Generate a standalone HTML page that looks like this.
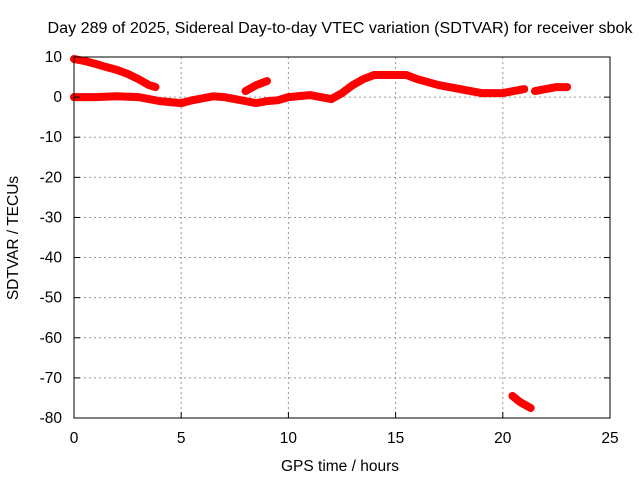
<!DOCTYPE html>
<html><head><meta charset="utf-8"><style>
body{margin:0;background:#fff}
svg text{font-family:"Liberation Sans",sans-serif;font-size:15.5px;fill:#000}
</style></head><body>
<svg width="640" height="480">
<g id="grid"></g>
<g id="series"></g>
<rect x="74" y="57" width="536" height="361" fill="none" stroke="#000" stroke-width="1"/>
<g id="ticks"></g>
<text x="340" y="33" text-anchor="middle" textLength="585" lengthAdjust="spacingAndGlyphs">Day 289 of 2025, Sidereal Day-to-day VTEC variation (SDTVAR) for receiver sbok</text>
<text x="340" y="471" text-anchor="middle">GPS time / hours</text>
<text transform="translate(18,238) rotate(-90)" text-anchor="middle">SDTVAR / TECUs</text>
</svg>
<script>
const xTicks=[0,5,10,15,20,25];
const yTicks=[10,0,-10,-20,-30,-40,-50,-60,-70,-80];
const segA_t=[0,1,2,3,3.5,4,5,5.5,6,6.5,7,7.5,8,8.5,9,9.5,10,11,11.5,12,12.5,13,13.5,14,15,15.5,16,17,18,19,20,20.5,21];
const segA_v=[0,0,0.2,0,-0.5,-1,-1.5,-0.8,-0.3,0.2,0,-0.5,-1,-1.5,-1,-0.8,0,0.5,0,-0.5,1,3,4.5,5.5,5.5,5.5,4.5,3,2,1,1,1.5,2];
const segB_t=[21.5,22,22.5,23];
const segB_v=[1.5,2,2.5,2.5];
const segC_t=[0,0.5,1,1.5,2,2.5,3,3.5,3.8];
const segC_v=[9.5,9,8.3,7.5,6.8,5.8,4.5,3,2.5];
const segD_t=[8,8.5,9];
const segD_v=[1.5,3,4];
const segE_t=[20.45,20.8,21.3];
const segE_v=[-74.5,-76,-77.5];
const X=t=>74+t*536/25, Y=v=>57+(10-v)*361/90;
const NS="http://www.w3.org/2000/svg";
const g=document.getElementById('grid'),tk=document.getElementById('ticks'),s=document.getElementById('series');
function mk(tag,a,p){const e=document.createElementNS(NS,tag);for(const k in a)e.setAttribute(k,a[k]);p.appendChild(e);return e;}
xTicks.forEach(t=>{const x=X(t);
 if(t>0&&t<25){const l=mk('line',{x1:x,x2:x,y1:57,y2:418,stroke:'#999','stroke-dasharray':'2,3'},g);
 
 }
 mk('line',{x1:x,x2:x,y1:418,y2:412,stroke:'#000'},tk);
 const tx=mk('text',{x:x,y:443,'text-anchor':'middle'},tk);tx.textContent=t;
 
 });
yTicks.forEach(v=>{const y=Y(v);
 if(v<10&&v>-80){const l=mk('line',{x1:74,x2:610,y1:y,y2:y,stroke:'#999','stroke-dasharray':'2,3'},g);
 
 }
 mk('line',{x1:74,x2:80,y1:y,y2:y,stroke:'#000'},tk);
 mk('line',{x1:604,x2:610,y1:y,y2:y,stroke:'#000'},tk);
 const tx=mk('text',{x:62,y:y+5,'text-anchor':'end'},tk);tx.textContent=v;
 
 });
[[segA_t,segA_v],[segB_t,segB_v],[segC_t,segC_v],[segD_t,segD_v],[segE_t,segE_v]].forEach(([ts,vs])=>{
 const p=mk('polyline',{points:ts.map((t,i)=>X(t)+','+Y(vs[i])).join(' '),fill:'none',stroke:'#f00','stroke-width':8,'stroke-linejoin':'round','stroke-linecap':'round'},s);
 
 });
</script>
</body></html>
